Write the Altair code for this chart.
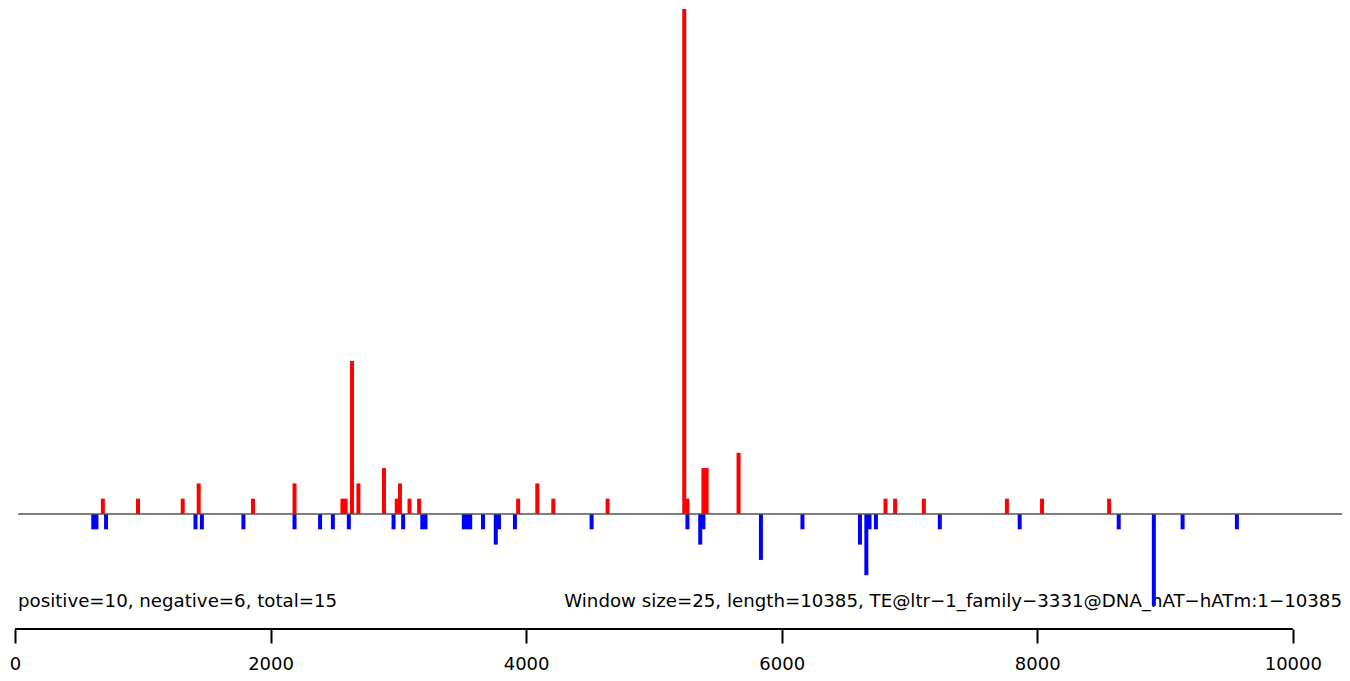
import altair as alt
import pandas as pd

# ---------------- data ----------------
WINDOW = 25
LENGTH = 10385

pos_start = [675, 950, 1300, 1425, 1850, 2175, 2550, 2575, 2625, 2675, 2875, 2975,
             3000, 3075, 3150, 3925, 4075, 4200, 4625, 5225, 5250, 5375, 5400, 5650,
             6800, 6875, 7100, 7750, 8025, 8550]
pos_count = [1, 1, 1, 2, 1, 2, 1, 1, 10, 2, 3, 1,
             2, 1, 1, 1, 2, 1, 1, 33, 1, 3, 3, 4,
             1, 1, 1, 1, 1, 1]

neg_start = [600, 625, 700, 1400, 1450, 1775, 2175, 2375, 2475, 2600, 2950, 3025,
             3175, 3200, 3500, 3525, 3550, 3650, 3750, 3775, 3900, 4500, 5250, 5350,
             5375, 5825, 6150, 6600, 6650, 6675, 6725, 7225, 7850, 8625, 8900, 9125, 9550]
neg_count = [1, 1, 1, 1, 1, 1, 1, 1, 1, 1, 1, 1,
             1, 1, 1, 1, 1, 1, 2, 1, 1, 1, 1, 2,
             1, 3, 1, 2, 4, 1, 1, 1, 1, 1, 6, 1, 1]

tick_values = [0, 2000, 4000, 6000, 8000, 10000]
left_label = "positive=10, negative=6, total=15"
right_label = "Window size=25, length=10385, TE@ltr\u22121_family\u22123331@DNA_hAT\u2212hATm:1\u221210385"

# ---------------- layout ----------------
W = 1327
H = 620
Y_MAX = 33
Y_MIN = -7.515
FONT = "DejaVu Sans"
FS = 18.2

pos = pd.DataFrame({"center": [s + WINDOW / 2 for s in pos_start], "count": pos_count})
neg = pd.DataFrame({"center": [s + WINDOW / 2 for s in neg_start], "count": [-c for c in neg_count]})

xs = alt.Scale(domain=[0, LENGTH], nice=False, zero=False, padding=0)
ys = alt.Scale(domain=[Y_MIN, Y_MAX], nice=False, zero=False, padding=0)

xaxis = alt.Axis(values=tick_values, domain=False, grid=False, ticks=True, tickSize=14,
                 tickWidth=2, tickColor="black", labelFont=FONT, labelFontSize=18,
                 labelColor="black", labelPadding=26, labelBaseline="alphabetic",
                 title=None, format="d", labelFlush=False, labelOverlap=False)

texts = pd.DataFrame({"label": [left_label]})
texts_r = pd.DataFrame({"label": [right_label]})

left_text = alt.Chart(texts).mark_text(
    align="left", baseline="alphabetic", font=FONT, fontSize=FS, color="black"
).encode(text="label:N", x=alt.value(3), y=alt.value(598))

right_text = alt.Chart(texts_r).mark_text(
    align="right", baseline="alphabetic", font=FONT, fontSize=FS, color="black"
).encode(text="label:N", x=alt.value(W), y=alt.value(598))

pos_bars = alt.Chart(pos).mark_bar(color="#FF0000", size=4).encode(
    x=alt.X("center:Q", scale=xs, axis=xaxis),
    y=alt.Y("count:Q", scale=ys, axis=None),
    y2=alt.datum(0),
)

neg_bars = alt.Chart(neg).mark_bar(color="#0000FF", size=4).encode(
    x=alt.X("center:Q", scale=xs, axis=xaxis),
    y=alt.Y("count:Q", scale=ys, axis=None),
    y2=alt.datum(0),
)

baseline = alt.Chart(pd.DataFrame({"center": [WINDOW], "b": [LENGTH]})).mark_rule(
    color="#555555", strokeWidth=1.5
).encode(
    x=alt.X("center:Q", scale=xs, axis=xaxis),
    x2="b:Q",
    y=alt.datum(0),
)

axis_line = alt.Chart(pd.DataFrame({"center": [tick_values[0]], "b": [tick_values[-1]]})).mark_rule(
    color="black", strokeWidth=2
).encode(
    x=alt.X("center:Q", scale=xs, axis=xaxis),
    x2="b:Q",
    y=alt.datum(Y_MIN),
)

chart = alt.layer(left_text, right_text, pos_bars, neg_bars, baseline, axis_line).properties(
    width=W,
    height=H,
    padding={"left": 7, "top": 1, "right": 0, "bottom": 50},
    autosize=alt.AutoSizeParams(type="none"),
).configure_view(stroke=None)

chart.save("out.html", embed_options={"renderer": "svg", "actions": False})
